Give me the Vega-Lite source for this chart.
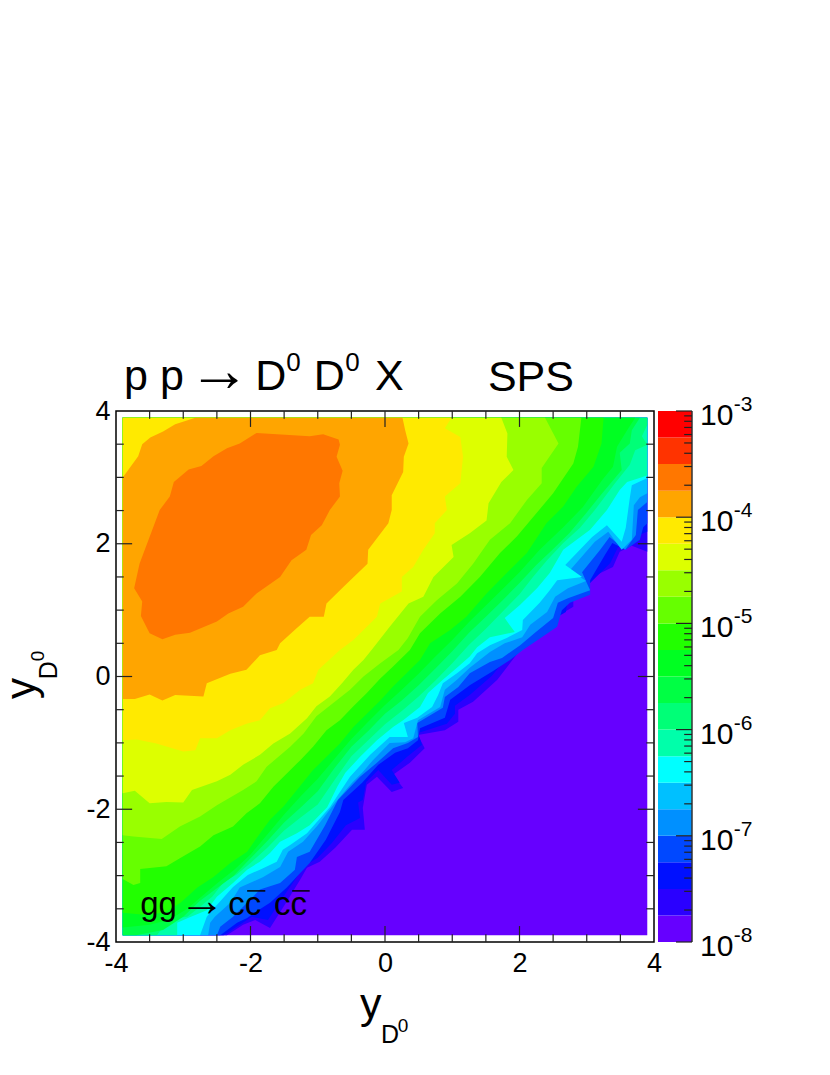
{"$schema":"https://vega.github.io/schema/vega-lite/v6.json","autosize":{"type":"none"},"padding":{"left":116,"top":411,"right":714,"bottom":664},"background":"white","spacing":4,"bounds":"flush","config":{"font":"Liberation Sans","text":{"font":"Liberation Sans","color":"#000","align":"left","baseline":"alphabetic"}},
"datasets":{
"contours":[
{"l":1,"x":-3.9,"y":-3.9},{"l":1,"x":3.9,"y":-3.9},{"l":1,"x":3.9,"y":3.9},{"l":1,"x":-3.9,"y":3.9},
{"l":2,"x":-2.35,"y":-3.9},{"l":2,"x":-2.11,"y":-3.74},{"l":2,"x":-1.93,"y":-3.67},{"l":2,"x":-1.71,"y":-3.79},{"l":2,"x":-1.49,"y":-3.44},{"l":2,"x":-1.26,"y":-3.06},{"l":2,"x":-1.16,"y":-2.88},{"l":2,"x":-0.97,"y":-2.79},{"l":2,"x":-0.74,"y":-2.58},{"l":2,"x":-0.49,"y":-2.31},{"l":2,"x":-0.3,"y":-2.31},{"l":2,"x":-0.33,"y":-1.98},{"l":2,"x":-0.27,"y":-1.63},{"l":2,"x":-0.12,"y":-1.51},{"l":2,"x":0.1,"y":-1.74},{"l":2,"x":0.27,"y":-1.68},{"l":2,"x":0.12,"y":-1.48},{"l":2,"x":0.37,"y":-1.3},{"l":2,"x":0.59,"y":-1.08},{"l":2,"x":0.49,"y":-0.88},{"l":2,"x":0.89,"y":-0.81},{"l":2,"x":1.09,"y":-0.68},{"l":2,"x":1.09,"y":-0.5},{"l":2,"x":1.31,"y":-0.38},{"l":2,"x":1.67,"y":-0.05},{"l":2,"x":2.01,"y":0.4},{"l":2,"x":2.3,"y":0.75},{"l":2,"x":2.8,"y":1.05},{"l":2,"x":2.8,"y":1.26},{"l":2,"x":3.08,"y":1.5},{"l":2,"x":3.39,"y":1.65},{"l":2,"x":3.49,"y":1.88},{"l":2,"x":3.67,"y":1.97},{"l":2,"x":3.9,"y":1.88},{"l":2,"x":3.9,"y":3.9},{"l":2,"x":-3.9,"y":3.9},{"l":2,"x":-3.9,"y":-3.9},
{"l":3,"x":-2.4,"y":-3.9},{"l":3,"x":-2.16,"y":-3.74},{"l":3,"x":-1.98,"y":-3.62},{"l":3,"x":-1.74,"y":-3.67},{"l":3,"x":-1.52,"y":-3.33},{"l":3,"x":-1.31,"y":-3.02},{"l":3,"x":-1.19,"y":-2.85},{"l":3,"x":-1.0,"y":-2.73},{"l":3,"x":-0.79,"y":-2.51},{"l":3,"x":-0.58,"y":-2.24},{"l":3,"x":-0.37,"y":-2.13},{"l":3,"x":-0.4,"y":-1.9},{"l":3,"x":-0.33,"y":-1.86},{"l":3,"x":-0.28,"y":-1.59},{"l":3,"x":-0.1,"y":-1.41},{"l":3,"x":0.1,"y":-1.63},{"l":3,"x":0.22,"y":-1.6},{"l":3,"x":0.1,"y":-1.41},{"l":3,"x":0.33,"y":-1.21},{"l":3,"x":0.55,"y":-1.03},{"l":3,"x":0.49,"y":-0.85},{"l":3,"x":0.92,"y":-0.71},{"l":3,"x":1.04,"y":-0.56},{"l":3,"x":1.04,"y":-0.44},{"l":3,"x":1.26,"y":-0.28},{"l":3,"x":1.59,"y":0.01},{"l":3,"x":1.93,"y":0.43},{"l":3,"x":2.23,"y":0.7},{"l":3,"x":2.69,"y":0.97},{"l":3,"x":2.72,"y":1.18},{"l":3,"x":3.05,"y":1.41},{"l":3,"x":3.35,"y":1.71},{"l":3,"x":3.46,"y":1.94},{"l":3,"x":3.67,"y":2.09},{"l":3,"x":3.9,"y":2.18},{"l":3,"x":3.9,"y":3.9},{"l":3,"x":-3.9,"y":3.9},{"l":3,"x":-3.9,"y":-3.9},
{"l":4,"x":-2.45,"y":-3.9},{"l":4,"x":-2.2,"y":-3.71},{"l":4,"x":-2.05,"y":-3.64},{"l":4,"x":-1.93,"y":-3.55},{"l":4,"x":-1.71,"y":-3.41},{"l":4,"x":-1.46,"y":-3.18},{"l":4,"x":-1.26,"y":-2.96},{"l":4,"x":-1.12,"y":-2.81},{"l":4,"x":-0.88,"y":-2.46},{"l":4,"x":-0.67,"y":-2.04},{"l":4,"x":-0.62,"y":-1.86},{"l":4,"x":-0.34,"y":-1.6},{"l":4,"x":-0.1,"y":-1.33},{"l":4,"x":0.15,"y":-1.15},{"l":4,"x":0.34,"y":-1.08},{"l":4,"x":0.49,"y":-0.96},{"l":4,"x":0.52,"y":-0.78},{"l":4,"x":0.89,"y":-0.62},{"l":4,"x":0.97,"y":-0.35},{"l":4,"x":1.26,"y":-0.13},{"l":4,"x":1.59,"y":0.07},{"l":4,"x":1.86,"y":0.25},{"l":4,"x":2.05,"y":0.4},{"l":4,"x":2.27,"y":0.55},{"l":4,"x":2.56,"y":0.75},{"l":4,"x":2.63,"y":1.0},{"l":4,"x":2.75,"y":1.11},{"l":4,"x":3.05,"y":1.23},{"l":4,"x":3.05,"y":1.45},{"l":4,"x":3.27,"y":1.83},{"l":4,"x":3.38,"y":2.01},{"l":4,"x":3.58,"y":1.91},{"l":4,"x":3.79,"y":2.06},{"l":4,"x":3.84,"y":2.25},{"l":4,"x":3.9,"y":2.31},{"l":4,"x":3.9,"y":3.9},{"l":4,"x":-3.9,"y":3.9},{"l":4,"x":-3.9,"y":-3.9},
{"l":5,"x":-2.5,"y":-3.9},{"l":5,"x":-2.45,"y":-3.77},{"l":5,"x":-2.26,"y":-3.62},{"l":5,"x":-2.05,"y":-3.41},{"l":5,"x":-1.86,"y":-3.21},{"l":5,"x":-1.56,"y":-3.11},{"l":5,"x":-1.34,"y":-2.91},{"l":5,"x":-1.31,"y":-2.72},{"l":5,"x":-1.12,"y":-2.64},{"l":5,"x":-0.89,"y":-2.24},{"l":5,"x":-0.7,"y":-1.86},{"l":5,"x":-0.37,"y":-1.51},{"l":5,"x":-0.12,"y":-1.3},{"l":5,"x":0.12,"y":-1.08},{"l":5,"x":0.34,"y":-1.0},{"l":5,"x":0.49,"y":-0.91},{"l":5,"x":0.48,"y":-0.7},{"l":5,"x":0.86,"y":-0.47},{"l":5,"x":0.89,"y":-0.31},{"l":5,"x":1.09,"y":-0.16},{"l":5,"x":1.26,"y":0.05},{"l":5,"x":1.56,"y":0.22},{"l":5,"x":1.74,"y":0.28},{"l":5,"x":2.01,"y":0.47},{"l":5,"x":2.23,"y":0.66},{"l":5,"x":2.5,"y":0.88},{"l":5,"x":2.57,"y":1.11},{"l":5,"x":2.72,"y":1.18},{"l":5,"x":3.05,"y":1.3},{"l":5,"x":2.93,"y":1.57},{"l":5,"x":3.2,"y":1.91},{"l":5,"x":3.34,"y":2.1},{"l":5,"x":3.57,"y":1.91},{"l":5,"x":3.73,"y":2.13},{"l":5,"x":3.76,"y":2.51},{"l":5,"x":3.9,"y":2.63},{"l":5,"x":3.9,"y":3.9},{"l":5,"x":-3.9,"y":3.9},{"l":5,"x":-3.9,"y":-3.9},
{"l":6,"x":-2.63,"y":-3.9},{"l":6,"x":-2.6,"y":-3.71},{"l":6,"x":-2.53,"y":-3.62},{"l":6,"x":-2.3,"y":-3.41},{"l":6,"x":-2.16,"y":-3.18},{"l":6,"x":-1.96,"y":-3.09},{"l":6,"x":-1.81,"y":-3.02},{"l":6,"x":-1.56,"y":-2.87},{"l":6,"x":-1.44,"y":-2.64},{"l":6,"x":-1.22,"y":-2.49},{"l":6,"x":-1.0,"y":-2.24},{"l":6,"x":-0.74,"y":-1.9},{"l":6,"x":-0.49,"y":-1.6},{"l":6,"x":-0.33,"y":-1.44},{"l":6,"x":-0.18,"y":-1.26},{"l":6,"x":0.07,"y":-1.0},{"l":6,"x":0.3,"y":-0.99},{"l":6,"x":0.42,"y":-0.93},{"l":6,"x":0.49,"y":-0.66},{"l":6,"x":0.82,"y":-0.46},{"l":6,"x":0.89,"y":-0.2},{"l":6,"x":1.07,"y":-0.05},{"l":6,"x":1.26,"y":0.13},{"l":6,"x":1.56,"y":0.37},{"l":6,"x":1.78,"y":0.5},{"l":6,"x":2.04,"y":0.59},{"l":6,"x":2.16,"y":0.78},{"l":6,"x":2.41,"y":0.97},{"l":6,"x":2.53,"y":1.2},{"l":6,"x":2.72,"y":1.33},{"l":6,"x":2.99,"y":1.44},{"l":6,"x":2.75,"y":1.6},{"l":6,"x":3.12,"y":2.03},{"l":6,"x":3.32,"y":2.18},{"l":6,"x":3.52,"y":1.91},{"l":6,"x":3.67,"y":2.06},{"l":6,"x":3.7,"y":2.58},{"l":6,"x":3.79,"y":2.7},{"l":6,"x":3.9,"y":2.76},{"l":6,"x":3.9,"y":3.9},{"l":6,"x":-3.9,"y":3.9},{"l":6,"x":-3.9,"y":-3.9},
{"l":7,"x":-2.75,"y":-3.9},{"l":7,"x":-2.65,"y":-3.62},{"l":7,"x":-2.57,"y":-3.52},{"l":7,"x":-2.26,"y":-3.17},{"l":7,"x":-2.04,"y":-2.99},{"l":7,"x":-1.86,"y":-2.91},{"l":7,"x":-1.61,"y":-2.79},{"l":7,"x":-1.52,"y":-2.61},{"l":7,"x":-1.41,"y":-2.54},{"l":7,"x":-1.16,"y":-2.36},{"l":7,"x":-0.82,"y":-1.97},{"l":7,"x":-0.52,"y":-1.51},{"l":7,"x":-0.22,"y":-1.18},{"l":7,"x":0.07,"y":-0.91},{"l":7,"x":0.34,"y":-0.91},{"l":7,"x":0.28,"y":-0.7},{"l":7,"x":0.48,"y":-0.62},{"l":7,"x":0.7,"y":-0.46},{"l":7,"x":0.79,"y":-0.28},{"l":7,"x":0.86,"y":-0.1},{"l":7,"x":1.07,"y":0.05},{"l":7,"x":1.26,"y":0.2},{"l":7,"x":1.37,"y":0.35},{"l":7,"x":1.56,"y":0.47},{"l":7,"x":1.81,"y":0.58},{"l":7,"x":2.04,"y":0.7},{"l":7,"x":2.05,"y":0.85},{"l":7,"x":2.3,"y":1.11},{"l":7,"x":2.45,"y":1.3},{"l":7,"x":2.56,"y":1.45},{"l":7,"x":2.93,"y":1.5},{"l":7,"x":2.68,"y":1.68},{"l":7,"x":3.08,"y":2.1},{"l":7,"x":3.3,"y":2.28},{"l":7,"x":3.52,"y":2.03},{"l":7,"x":3.58,"y":2.24},{"l":7,"x":3.64,"y":2.69},{"l":7,"x":3.67,"y":2.88},{"l":7,"x":3.9,"y":2.99},{"l":7,"x":3.9,"y":3.9},{"l":7,"x":-3.9,"y":3.9},{"l":7,"x":-3.9,"y":-3.9},
{"l":8,"x":-3.09,"y":-3.9},{"l":8,"x":-3.09,"y":-3.71},{"l":8,"x":-2.93,"y":-3.64},{"l":8,"x":-2.65,"y":-3.52},{"l":8,"x":-2.5,"y":-3.32},{"l":8,"x":-2.26,"y":-3.11},{"l":8,"x":-2.05,"y":-2.91},{"l":8,"x":-1.86,"y":-2.79},{"l":8,"x":-1.71,"y":-2.66},{"l":8,"x":-1.56,"y":-2.49},{"l":8,"x":-1.31,"y":-2.36},{"l":8,"x":-1.12,"y":-2.24},{"l":8,"x":-0.86,"y":-1.97},{"l":8,"x":-0.71,"y":-1.66},{"l":8,"x":-0.59,"y":-1.45},{"l":8,"x":-0.37,"y":-1.21},{"l":8,"x":-0.12,"y":-0.96},{"l":8,"x":0.12,"y":-0.76},{"l":8,"x":0.27,"y":-0.66},{"l":8,"x":0.52,"y":-0.46},{"l":8,"x":0.64,"y":-0.25},{"l":8,"x":0.86,"y":-0.05},{"l":8,"x":1.07,"y":0.13},{"l":8,"x":1.26,"y":0.3},{"l":8,"x":1.37,"y":0.44},{"l":8,"x":1.56,"y":0.59},{"l":8,"x":1.93,"y":0.67},{"l":8,"x":1.78,"y":0.88},{"l":8,"x":2.01,"y":1.08},{"l":8,"x":2.26,"y":1.33},{"l":8,"x":2.45,"y":1.56},{"l":8,"x":2.65,"y":1.91},{"l":8,"x":3.05,"y":2.21},{"l":8,"x":3.3,"y":2.51},{"l":8,"x":3.49,"y":2.81},{"l":8,"x":3.6,"y":2.93},{"l":8,"x":3.9,"y":3.03},{"l":8,"x":3.9,"y":3.9},{"l":8,"x":-3.9,"y":3.9},{"l":8,"x":-3.9,"y":-3.9},
{"l":9,"x":-3.39,"y":-3.9},{"l":9,"x":-3.3,"y":-3.77},{"l":9,"x":-3.12,"y":-3.64},{"l":9,"x":-2.94,"y":-3.62},{"l":9,"x":-2.75,"y":-3.47},{"l":9,"x":-2.57,"y":-3.32},{"l":9,"x":-2.4,"y":-3.1},{"l":9,"x":-2.2,"y":-2.98},{"l":9,"x":-2.0,"y":-2.81},{"l":9,"x":-1.75,"y":-2.58},{"l":9,"x":-1.5,"y":-2.32},{"l":9,"x":-1.25,"y":-2.12},{"l":9,"x":-1.0,"y":-1.93},{"l":9,"x":-0.75,"y":-1.56},{"l":9,"x":-0.5,"y":-1.2},{"l":9,"x":-0.25,"y":-0.96},{"l":9,"x":0,"y":-0.72},{"l":9,"x":0.25,"y":-0.52},{"l":9,"x":0.5,"y":-0.3},{"l":9,"x":0.75,"y":-0.06},{"l":9,"x":1.0,"y":0.2},{"l":9,"x":1.25,"y":0.48},{"l":9,"x":1.5,"y":0.72},{"l":9,"x":1.75,"y":0.98},{"l":9,"x":2.0,"y":1.24},{"l":9,"x":2.2,"y":1.5},{"l":9,"x":2.41,"y":1.75},{"l":9,"x":2.65,"y":2.01},{"l":9,"x":2.9,"y":2.24},{"l":9,"x":3.12,"y":2.51},{"l":9,"x":3.42,"y":2.91},{"l":9,"x":3.64,"y":3.19},{"l":9,"x":3.72,"y":3.41},{"l":9,"x":3.9,"y":3.49},{"l":9,"x":3.82,"y":3.62},{"l":9,"x":3.9,"y":3.79},{"l":9,"x":3.9,"y":3.9},{"l":9,"x":-3.9,"y":3.9},{"l":9,"x":-3.9,"y":-3.9},
{"l":10,"x":-3.7,"y":-3.9},{"l":10,"x":-3.3,"y":-3.82},{"l":10,"x":-3.0,"y":-3.62},{"l":10,"x":-2.75,"y":-3.38},{"l":10,"x":-2.5,"y":-3.19},{"l":10,"x":-2.25,"y":-3.0},{"l":10,"x":-2.0,"y":-2.74},{"l":10,"x":-1.75,"y":-2.48},{"l":10,"x":-1.5,"y":-2.2},{"l":10,"x":-1.25,"y":-1.97},{"l":10,"x":-1.0,"y":-1.73},{"l":10,"x":-0.75,"y":-1.38},{"l":10,"x":-0.5,"y":-1.06},{"l":10,"x":-0.25,"y":-0.82},{"l":10,"x":0,"y":-0.56},{"l":10,"x":0.25,"y":-0.36},{"l":10,"x":0.5,"y":-0.13},{"l":10,"x":0.75,"y":0.12},{"l":10,"x":1.0,"y":0.38},{"l":10,"x":1.25,"y":0.66},{"l":10,"x":1.5,"y":0.9},{"l":10,"x":1.75,"y":1.15},{"l":10,"x":2.0,"y":1.41},{"l":10,"x":2.25,"y":1.68},{"l":10,"x":2.49,"y":1.91},{"l":10,"x":2.74,"y":2.16},{"l":10,"x":2.99,"y":2.46},{"l":10,"x":3.23,"y":2.76},{"l":10,"x":3.52,"y":3.11},{"l":10,"x":3.49,"y":3.37},{"l":10,"x":3.64,"y":3.51},{"l":10,"x":3.67,"y":3.71},{"l":10,"x":3.79,"y":3.9},{"l":10,"x":-3.9,"y":3.9},{"l":10,"x":-3.9,"y":-3.9},
{"l":11,"x":-3.9,"y":-3.78},{"l":11,"x":-3.5,"y":-3.74},{"l":11,"x":-3.2,"y":-3.66},{"l":11,"x":-2.94,"y":-3.5},{"l":11,"x":-2.71,"y":-3.3},{"l":11,"x":-2.5,"y":-3.12},{"l":11,"x":-2.25,"y":-2.92},{"l":11,"x":-2.0,"y":-2.68},{"l":11,"x":-1.75,"y":-2.38},{"l":11,"x":-1.5,"y":-2.08},{"l":11,"x":-1.25,"y":-1.8},{"l":11,"x":-1.0,"y":-1.54},{"l":11,"x":-0.75,"y":-1.24},{"l":11,"x":-0.5,"y":-0.94},{"l":11,"x":-0.25,"y":-0.68},{"l":11,"x":0,"y":-0.43},{"l":11,"x":0.25,"y":-0.2},{"l":11,"x":0.5,"y":0.04},{"l":11,"x":0.75,"y":0.3},{"l":11,"x":1.0,"y":0.55},{"l":11,"x":1.25,"y":0.82},{"l":11,"x":1.5,"y":1.07},{"l":11,"x":1.75,"y":1.32},{"l":11,"x":2.0,"y":1.57},{"l":11,"x":2.3,"y":1.91},{"l":11,"x":2.65,"y":2.25},{"l":11,"x":2.94,"y":2.55},{"l":11,"x":3.23,"y":2.96},{"l":11,"x":3.39,"y":3.16},{"l":11,"x":3.45,"y":3.46},{"l":11,"x":3.6,"y":3.71},{"l":11,"x":3.72,"y":3.9},{"l":11,"x":-3.9,"y":3.9},
{"l":12,"x":-3.9,"y":-3.56},{"l":12,"x":-3.58,"y":-3.59},{"l":12,"x":-3.28,"y":-3.56},{"l":12,"x":-3.04,"y":-3.41},{"l":12,"x":-2.79,"y":-3.18},{"l":12,"x":-2.55,"y":-3.02},{"l":12,"x":-2.3,"y":-2.81},{"l":12,"x":-2.05,"y":-2.64},{"l":12,"x":-1.9,"y":-2.42},{"l":12,"x":-1.71,"y":-2.16},{"l":12,"x":-1.51,"y":-1.96},{"l":12,"x":-1.31,"y":-1.71},{"l":12,"x":-1.07,"y":-1.41},{"l":12,"x":-0.87,"y":-1.21},{"l":12,"x":-0.67,"y":-1.01},{"l":12,"x":-0.47,"y":-0.76},{"l":12,"x":-0.27,"y":-0.56},{"l":12,"x":-0.07,"y":-0.36},{"l":12,"x":0.12,"y":-0.15},{"l":12,"x":0.32,"y":0.05},{"l":12,"x":0.52,"y":0.25},{"l":12,"x":0.67,"y":0.5},{"l":12,"x":0.97,"y":0.7},{"l":12,"x":1.21,"y":0.9},{"l":12,"x":1.51,"y":1.25},{"l":12,"x":1.81,"y":1.56},{"l":12,"x":2.11,"y":1.86},{"l":12,"x":2.4,"y":2.31},{"l":12,"x":2.65,"y":2.56},{"l":12,"x":2.85,"y":2.86},{"l":12,"x":3.1,"y":3.16},{"l":12,"x":3.22,"y":3.51},{"l":12,"x":3.25,"y":3.9},{"l":12,"x":-3.9,"y":3.9},
{"l":13,"x":-3.9,"y":-3.05},{"l":13,"x":-3.74,"y":-3.14},{"l":13,"x":-3.64,"y":-3.11},{"l":13,"x":-3.64,"y":-2.9},{"l":13,"x":-3.25,"y":-2.86},{"l":13,"x":-3.05,"y":-2.74},{"l":13,"x":-2.75,"y":-2.56},{"l":13,"x":-2.55,"y":-2.39},{"l":13,"x":-2.26,"y":-2.26},{"l":13,"x":-2.06,"y":-2.06},{"l":13,"x":-1.86,"y":-1.91},{"l":13,"x":-1.66,"y":-1.66},{"l":13,"x":-1.46,"y":-1.46},{"l":13,"x":-1.26,"y":-1.26},{"l":13,"x":-1.07,"y":-1.06},{"l":13,"x":-0.87,"y":-0.81},{"l":13,"x":-0.67,"y":-0.66},{"l":13,"x":-0.47,"y":-0.45},{"l":13,"x":-0.27,"y":-0.25},{"l":13,"x":-0.07,"y":-0.03},{"l":13,"x":0.12,"y":0.15},{"l":13,"x":0.37,"y":0.4},{"l":13,"x":0.52,"y":0.65},{"l":13,"x":0.82,"y":0.95},{"l":13,"x":1.12,"y":1.2},{"l":13,"x":1.41,"y":1.5},{"l":13,"x":1.71,"y":1.86},{"l":13,"x":1.96,"y":2.11},{"l":13,"x":2.21,"y":2.41},{"l":13,"x":2.5,"y":2.76},{"l":13,"x":2.8,"y":3.21},{"l":13,"x":2.87,"y":3.46},{"l":13,"x":2.92,"y":3.9},{"l":13,"x":-3.9,"y":3.9},
{"l":14,"x":-3.9,"y":-2.39},{"l":14,"x":-3.74,"y":-2.41},{"l":14,"x":-3.32,"y":-2.45},{"l":14,"x":-3.05,"y":-2.26},{"l":14,"x":-2.75,"y":-2.11},{"l":14,"x":-2.5,"y":-1.94},{"l":14,"x":-2.11,"y":-1.71},{"l":14,"x":-1.91,"y":-1.58},{"l":14,"x":-1.76,"y":-1.36},{"l":14,"x":-1.41,"y":-1.06},{"l":14,"x":-1.21,"y":-0.86},{"l":14,"x":-1.02,"y":-0.6},{"l":14,"x":-0.77,"y":-0.4},{"l":14,"x":-0.52,"y":-0.2},{"l":14,"x":-0.32,"y":0},{"l":14,"x":-0.07,"y":0.2},{"l":14,"x":0.2,"y":0.4},{"l":14,"x":0.34,"y":0.58},{"l":14,"x":0.52,"y":0.9},{"l":14,"x":0.77,"y":1.15},{"l":14,"x":1.07,"y":1.4},{"l":14,"x":1.31,"y":1.7},{"l":14,"x":1.56,"y":2.06},{"l":14,"x":1.86,"y":2.31},{"l":14,"x":2.11,"y":2.66},{"l":14,"x":2.33,"y":2.91},{"l":14,"x":2.33,"y":3.14},{"l":14,"x":2.58,"y":3.51},{"l":14,"x":2.38,"y":3.9},{"l":14,"x":-3.9,"y":3.9},
{"l":15,"x":-3.9,"y":-1.76},{"l":15,"x":-3.72,"y":-1.72},{"l":15,"x":-3.5,"y":-1.91},{"l":15,"x":-3.25,"y":-1.89},{"l":15,"x":-3.0,"y":-1.9},{"l":15,"x":-2.87,"y":-1.71},{"l":15,"x":-2.5,"y":-1.58},{"l":15,"x":-2.3,"y":-1.48},{"l":15,"x":-2.11,"y":-1.33},{"l":15,"x":-1.86,"y":-1.18},{"l":15,"x":-1.66,"y":-1.01},{"l":15,"x":-1.41,"y":-0.86},{"l":15,"x":-1.16,"y":-0.63},{"l":15,"x":-1.02,"y":-0.45},{"l":15,"x":-0.82,"y":-0.3},{"l":15,"x":-0.64,"y":-0.1},{"l":15,"x":-0.47,"y":0.1},{"l":15,"x":-0.32,"y":0.25},{"l":15,"x":-0.2,"y":0.4},{"l":15,"x":0.07,"y":0.75},{"l":15,"x":0.35,"y":1.1},{"l":15,"x":0.57,"y":1.2},{"l":15,"x":0.72,"y":1.5},{"l":15,"x":1.02,"y":1.8},{"l":15,"x":0.99,"y":1.98},{"l":15,"x":1.26,"y":2.16},{"l":15,"x":1.51,"y":2.35},{"l":15,"x":1.54,"y":2.61},{"l":15,"x":1.73,"y":2.93},{"l":15,"x":1.91,"y":3.11},{"l":15,"x":1.81,"y":3.31},{"l":15,"x":1.82,"y":3.66},{"l":15,"x":1.73,"y":3.9},{"l":15,"x":-3.9,"y":3.9},
{"l":16,"x":-3.9,"y":-0.96},{"l":16,"x":-3.69,"y":-0.95},{"l":16,"x":-3.4,"y":-1.01},{"l":16,"x":-3.0,"y":-1.13},{"l":16,"x":-2.82,"y":-1.11},{"l":16,"x":-2.75,"y":-0.93},{"l":16,"x":-2.5,"y":-0.93},{"l":16,"x":-2.3,"y":-0.81},{"l":16,"x":-2.06,"y":-0.71},{"l":16,"x":-1.86,"y":-0.66},{"l":16,"x":-1.71,"y":-0.48},{"l":16,"x":-1.51,"y":-0.4},{"l":16,"x":-1.26,"y":-0.2},{"l":16,"x":-1.07,"y":-0.1},{"l":16,"x":-0.99,"y":0.1},{"l":16,"x":-0.67,"y":0.4},{"l":16,"x":-0.47,"y":0.55},{"l":16,"x":-0.12,"y":0.9},{"l":16,"x":-0.07,"y":1.1},{"l":16,"x":0.25,"y":1.28},{"l":16,"x":0.25,"y":1.5},{"l":16,"x":0.42,"y":1.65},{"l":16,"x":0.57,"y":1.91},{"l":16,"x":0.74,"y":2.16},{"l":16,"x":0.74,"y":2.31},{"l":16,"x":0.92,"y":2.51},{"l":16,"x":0.89,"y":2.71},{"l":16,"x":1.12,"y":2.91},{"l":16,"x":1.16,"y":3.31},{"l":16,"x":1.12,"y":3.61},{"l":16,"x":0.89,"y":3.74},{"l":16,"x":0.99,"y":3.9},{"l":16,"x":-3.9,"y":3.9},
{"l":17,"x":-3.9,"y":3.0},{"l":17,"x":-3.67,"y":3.32},{"l":17,"x":-3.61,"y":3.5},{"l":17,"x":-3.49,"y":3.6},{"l":17,"x":-3.3,"y":3.69},{"l":17,"x":-3.12,"y":3.8},{"l":17,"x":-2.82,"y":3.9},{"l":17,"x":0.26,"y":3.9},{"l":17,"x":0.3,"y":3.71},{"l":17,"x":0.35,"y":3.51},{"l":17,"x":0.28,"y":3.31},{"l":17,"x":0.27,"y":3.08},{"l":17,"x":0.1,"y":2.73},{"l":17,"x":0.1,"y":2.51},{"l":17,"x":0.05,"y":2.31},{"l":17,"x":-0.25,"y":1.91},{"l":17,"x":-0.26,"y":1.7},{"l":17,"x":-0.62,"y":1.35},{"l":17,"x":-0.87,"y":1.1},{"l":17,"x":-0.91,"y":0.9},{"l":17,"x":-1.12,"y":0.9},{"l":17,"x":-1.31,"y":0.73},{"l":17,"x":-1.56,"y":0.5},{"l":17,"x":-1.61,"y":0.4},{"l":17,"x":-1.86,"y":0.32},{"l":17,"x":-2.06,"y":0.1},{"l":17,"x":-2.3,"y":0.04},{"l":17,"x":-2.65,"y":-0.1},{"l":17,"x":-2.7,"y":-0.3},{"l":17,"x":-3.12,"y":-0.28},{"l":17,"x":-3.31,"y":-0.36},{"l":17,"x":-3.5,"y":-0.27},{"l":17,"x":-3.72,"y":-0.34},{"l":17,"x":-3.9,"y":-0.34},
{"l":18,"x":-1.91,"y":3.67},{"l":18,"x":-1.12,"y":3.62},{"l":18,"x":-0.92,"y":3.65},{"l":18,"x":-0.69,"y":3.57},{"l":18,"x":-0.67,"y":3.49},{"l":18,"x":-0.72,"y":3.31},{"l":18,"x":-0.63,"y":3.1},{"l":18,"x":-0.68,"y":2.91},{"l":18,"x":-0.67,"y":2.71},{"l":18,"x":-0.82,"y":2.51},{"l":18,"x":-0.94,"y":2.28},{"l":18,"x":-1.1,"y":2.13},{"l":18,"x":-1.17,"y":1.91},{"l":18,"x":-1.39,"y":1.75},{"l":18,"x":-1.56,"y":1.5},{"l":18,"x":-1.91,"y":1.25},{"l":18,"x":-2.11,"y":1.05},{"l":18,"x":-2.33,"y":0.95},{"l":18,"x":-2.5,"y":0.83},{"l":18,"x":-2.9,"y":0.66},{"l":18,"x":-3.12,"y":0.63},{"l":18,"x":-3.31,"y":0.56},{"l":18,"x":-3.5,"y":0.65},{"l":18,"x":-3.63,"y":0.91},{"l":18,"x":-3.61,"y":1.13},{"l":18,"x":-3.73,"y":1.33},{"l":18,"x":-3.65,"y":1.7},{"l":18,"x":-3.35,"y":2.51},{"l":18,"x":-3.2,"y":2.71},{"l":18,"x":-3.14,"y":2.93},{"l":18,"x":-2.92,"y":3.12},{"l":18,"x":-2.73,"y":3.17},{"l":18,"x":-2.55,"y":3.32},{"l":18,"x":-2.35,"y":3.44},{"l":18,"x":-2.16,"y":3.51}
],
"bands":[
{"c":1,"a":0,"b":1,"lo":1e-8,"hi":1.778e-8},{"c":2,"a":0,"b":1,"lo":1.778e-8,"hi":3.162e-8},{"c":3,"a":0,"b":1,"lo":3.162e-8,"hi":5.623e-8},{"c":4,"a":0,"b":1,"lo":5.623e-8,"hi":1e-7},{"c":5,"a":0,"b":1,"lo":1e-7,"hi":1.778e-7},{"c":6,"a":0,"b":1,"lo":1.778e-7,"hi":3.162e-7},{"c":7,"a":0,"b":1,"lo":3.162e-7,"hi":5.623e-7},{"c":8,"a":0,"b":1,"lo":5.623e-7,"hi":1e-6},{"c":9,"a":0,"b":1,"lo":1e-6,"hi":1.778e-6},{"c":10,"a":0,"b":1,"lo":1.778e-6,"hi":3.162e-6},{"c":11,"a":0,"b":1,"lo":3.162e-6,"hi":5.623e-6},{"c":12,"a":0,"b":1,"lo":5.623e-6,"hi":1e-5},{"c":13,"a":0,"b":1,"lo":1e-5,"hi":1.778e-5},{"c":14,"a":0,"b":1,"lo":1.778e-5,"hi":3.162e-5},{"c":15,"a":0,"b":1,"lo":3.162e-5,"hi":5.623e-5},{"c":16,"a":0,"b":1,"lo":5.623e-5,"hi":1e-4},{"c":17,"a":0,"b":1,"lo":1e-4,"hi":1.778e-4},{"c":18,"a":0,"b":1,"lo":1.778e-4,"hi":3.162e-4},{"c":19,"a":0,"b":1,"lo":3.162e-4,"hi":5.623e-4},{"c":20,"a":0,"b":1,"lo":5.623e-4,"hi":1e-3}]
},
"hconcat":[
{"width":538,"height":531,"view":{"stroke":"#000","strokeWidth":1.5},
"encoding":{"x":{"field":"x","type":"quantitative","scale":{"domain":[-4,4],"nice":false,"zero":false},"axis":{"values":[-4,-2,0,2,4],"title":null,"grid":false,"ticks":false,"domain":false,"labelFontSize":27,"labelFont":"Liberation Sans","labelColor":"#000","labelPadding":8,"labelFlush":false,"labelOverlap":false,"labelExpr":"''+datum.value"}},"y":{"field":"y","type":"quantitative","scale":{"domain":[-4,4],"nice":false,"zero":false},"axis":{"values":[-4,-2,0,2,4],"title":null,"grid":false,"ticks":false,"domain":false,"labelFontSize":27,"labelFont":"Liberation Sans","labelColor":"#000","labelPadding":6,"labelFlush":false,"labelOverlap":false,"labelExpr":"''+datum.value"}}},
"layer":[
{"data":{"name":"contours"},"mark":{"type":"line","filled":true,"strokeWidth":0},"encoding":{"order":{"value":null},"color":{"field":"l","type":"ordinal","legend":null,"scale":{"domain":[1,2,3,4,5,6,7,8,9,10,11,12,13,14,15,16,17,18,19,20],"range":["#6600ff","#2a00ff","#0010ff","#0048ff","#0090ff","#00c0ff","#00ffff","#00ffaa","#00ff77","#00ff44","#00ff22","#22ff00","#66ff00","#99ff00","#ddff00","#ffea00","#ffa500","#ff7700","#ff3300","#ff0000"]}}}},
{"data":{"values":[{"x":-3.7},{"x":-3.5},{"x":-3.3},{"x":-3.1},{"x":-2.9},{"x":-2.7},{"x":-2.5},{"x":-2.3},{"x":-2.1},{"x":-1.9},{"x":-1.7},{"x":-1.5},{"x":-1.3},{"x":-1.1},{"x":-0.9},{"x":-0.7},{"x":-0.5},{"x":-0.3},{"x":-0.1},{"x":0.1},{"x":0.3},{"x":0.5},{"x":0.7},{"x":0.9},{"x":1.1},{"x":1.3},{"x":1.5},{"x":1.7},{"x":1.9},{"x":2.1},{"x":2.3},{"x":2.5},{"x":2.7},{"x":2.9},{"x":3.1},{"x":3.3},{"x":3.5},{"x":3.7}]},"mark":{"type":"rule","color":"#fff","strokeWidth":1,"opacity":0.1},"encoding":{"y":{"datum":-3.9},"y2":{"datum":3.9}}},
{"data":{"values":[{"y":-3.7},{"y":-3.5},{"y":-3.3},{"y":-3.1},{"y":-2.9},{"y":-2.7},{"y":-2.5},{"y":-2.3},{"y":-2.1},{"y":-1.9},{"y":-1.7},{"y":-1.5},{"y":-1.3},{"y":-1.1},{"y":-0.9},{"y":-0.7},{"y":-0.5},{"y":-0.3},{"y":-0.1},{"y":0.1},{"y":0.3},{"y":0.5},{"y":0.7},{"y":0.9},{"y":1.1},{"y":1.3},{"y":1.5},{"y":1.7},{"y":1.9},{"y":2.1},{"y":2.3},{"y":2.5},{"y":2.7},{"y":2.9},{"y":3.1},{"y":3.3},{"y":3.5},{"y":3.7}]},"mark":{"type":"rule","color":"#fff","strokeWidth":1,"opacity":0.1},"encoding":{"x":{"datum":-3.9},"x2":{"datum":3.9}}},
{"data":{"values":[{"x":-3.5,"y":-4,"y2":-3.885},{"x":-3,"y":-4,"y2":-3.885},{"x":-2.5,"y":-4,"y2":-3.885},{"x":-2,"y":-4,"y2":-3.76},{"x":-1.5,"y":-4,"y2":-3.885},{"x":-1,"y":-4,"y2":-3.885},{"x":-0.5,"y":-4,"y2":-3.885},{"x":0,"y":-4,"y2":-3.76},{"x":0.5,"y":-4,"y2":-3.885},{"x":1,"y":-4,"y2":-3.885},{"x":1.5,"y":-4,"y2":-3.885},{"x":2,"y":-4,"y2":-3.76},{"x":2.5,"y":-4,"y2":-3.885},{"x":3,"y":-4,"y2":-3.885},{"x":3.5,"y":-4,"y2":-3.885},{"x":-3.5,"y":4,"y2":3.885},{"x":-3,"y":4,"y2":3.885},{"x":-2.5,"y":4,"y2":3.885},{"x":-2,"y":4,"y2":3.76},{"x":-1.5,"y":4,"y2":3.885},{"x":-1,"y":4,"y2":3.885},{"x":-0.5,"y":4,"y2":3.885},{"x":0,"y":4,"y2":3.76},{"x":0.5,"y":4,"y2":3.885},{"x":1,"y":4,"y2":3.885},{"x":1.5,"y":4,"y2":3.885},{"x":2,"y":4,"y2":3.76},{"x":2.5,"y":4,"y2":3.885},{"x":3,"y":4,"y2":3.885},{"x":3.5,"y":4,"y2":3.885}]},"mark":{"type":"rule","color":"#222","strokeWidth":1.2},"encoding":{"y2":{"field":"y2"}}},
{"data":{"values":[{"y":-3.5,"x":-4,"x2":-3.885},{"y":-3,"x":-4,"x2":-3.885},{"y":-2.5,"x":-4,"x2":-3.885},{"y":-2,"x":-4,"x2":-3.76},{"y":-1.5,"x":-4,"x2":-3.885},{"y":-1,"x":-4,"x2":-3.885},{"y":-0.5,"x":-4,"x2":-3.885},{"y":0,"x":-4,"x2":-3.76},{"y":0.5,"x":-4,"x2":-3.885},{"y":1,"x":-4,"x2":-3.885},{"y":1.5,"x":-4,"x2":-3.885},{"y":2,"x":-4,"x2":-3.76},{"y":2.5,"x":-4,"x2":-3.885},{"y":3,"x":-4,"x2":-3.885},{"y":3.5,"x":-4,"x2":-3.885},{"y":-3.5,"x":4,"x2":3.885},{"y":-3,"x":4,"x2":3.885},{"y":-2.5,"x":4,"x2":3.885},{"y":-2,"x":4,"x2":3.76},{"y":-1.5,"x":4,"x2":3.885},{"y":-1,"x":4,"x2":3.885},{"y":-0.5,"x":4,"x2":3.885},{"y":0,"x":4,"x2":3.76},{"y":0.5,"x":4,"x2":3.885},{"y":1,"x":4,"x2":3.885},{"y":1.5,"x":4,"x2":3.885},{"y":2,"x":4,"x2":3.76},{"y":2.5,"x":4,"x2":3.885},{"y":3,"x":4,"x2":3.885},{"y":3.5,"x":4,"x2":3.885}]},"mark":{"type":"rule","color":"#222","strokeWidth":1.2},"encoding":{"x2":{"field":"x2"}}},
{"data":{"values":[{"x":-2.05,"x2":-1.78,"y":-3.23},{"x":-1.38,"x2":-1.12,"y":-3.23}]},"mark":{"type":"rule","color":"#000","strokeWidth":1.5},"encoding":{"x2":{"field":"x2"}}},
{"data":{"values":[{"x":-3.88,"y":4.31,"t":"p p"},{"x":-1.93,"y":4.31,"t":"D"},{"x":-1.06,"y":4.31,"t":"D"},{"x":-0.15,"y":4.31,"t":"X"},{"x":1.53,"y":4.3,"t":"SPS"},{"x":-0.37,"y":-5.14,"t":"y"}]},"mark":{"type":"text","fontSize":43},"encoding":{"text":{"field":"t"}}},
{"data":{"values":[{"x":-2.93,"y":4.3,"t":"→"}]},"mark":{"type":"text","fontSize":62},"encoding":{"text":{"field":"t"}}},
{"data":{"values":[{"x":-3.06,"y":-3.61,"t":"→"}]},"mark":{"type":"text","fontSize":46},"encoding":{"text":{"field":"t"}}},
{"data":{"values":[{"x":-1.47,"y":4.6,"t":"0"},{"x":-0.59,"y":4.6,"t":"0"}]},"mark":{"type":"text","fontSize":26},"encoding":{"text":{"field":"t"}}},
{"data":{"values":[{"x":-3.64,"y":-3.59,"t":"gg"},{"x":-2.33,"y":-3.59,"t":"cc"},{"x":-1.65,"y":-3.59,"t":"cc"}]},"mark":{"type":"text","fontSize":33},"encoding":{"text":{"field":"t"}}},
{"data":{"values":[{"x":-0.06,"y":-5.52,"t":"D"}]},"mark":{"type":"text","fontSize":25},"encoding":{"text":{"field":"t"}}},
{"data":{"values":[{"x":0.19,"y":-5.36,"t":"0"}]},"mark":{"type":"text","fontSize":19},"encoding":{"text":{"field":"t"}}},
{"data":{"values":[{"x":-5.21,"y":-0.34,"t":"y"}]},"mark":{"type":"text","fontSize":42,"angle":270},"encoding":{"text":{"field":"t"}}},
{"data":{"values":[{"x":-4.88,"y":-0.04,"t":"D"}]},"mark":{"type":"text","fontSize":25,"angle":270},"encoding":{"text":{"field":"t"}}},
{"data":{"values":[{"x":-5.07,"y":0.23,"t":"0"}]},"mark":{"type":"text","fontSize":19,"angle":270},"encoding":{"text":{"field":"t"}}}
]},
{"width":34,"height":531,"view":{"stroke":null},
"encoding":{"x":{"field":"x","type":"quantitative","scale":{"domain":[0,1],"nice":false,"zero":false},"axis":null},"y":{"field":"v","type":"quantitative","scale":{"type":"log","domain":[1e-8,1e-3],"nice":false},"axis":null}},
"layer":[
{"data":{"name":"bands"},"mark":{"type":"rect"},"encoding":{"x":{"field":"a","type":"quantitative","axis":null},"x2":{"field":"b"},"y":{"field":"lo","type":"quantitative","axis":null},"y2":{"field":"hi"},"color":{"field":"c","type":"ordinal","legend":null,"scale":{"domain":[1,2,3,4,5,6,7,8,9,10,11,12,13,14,15,16,17,18,19,20],"range":["#6600ff","#2a00ff","#0010ff","#0048ff","#0090ff","#00c0ff","#00ffff","#00ffaa","#00ff77","#00ff44","#00ff22","#22ff00","#66ff00","#99ff00","#ddff00","#ffea00","#ffa500","#ff7700","#ff3300","#ff0000"]}}}},
{"data":{"values":[{"x":1,"v":1e-8,"v2":1e-3}]},"mark":{"type":"rule","color":"#333","strokeWidth":1.5},"encoding":{"y2":{"field":"v2"}}},
{"data":{"values":[{"x":0.53,"v":1e-8},{"x":0.53,"v":1e-7},{"x":0.53,"v":1e-6},{"x":0.53,"v":1e-5},{"x":0.53,"v":1e-4},{"x":0.53,"v":1e-3},
{"x":0.77,"v":2e-8},{"x":0.77,"v":3e-8},{"x":0.77,"v":4e-8},{"x":0.77,"v":5e-8},{"x":0.77,"v":6e-8},{"x":0.77,"v":7e-8},{"x":0.77,"v":8e-8},{"x":0.77,"v":9e-8},
{"x":0.77,"v":2e-7},{"x":0.77,"v":3e-7},{"x":0.77,"v":4e-7},{"x":0.77,"v":5e-7},{"x":0.77,"v":6e-7},{"x":0.77,"v":7e-7},{"x":0.77,"v":8e-7},{"x":0.77,"v":9e-7},
{"x":0.77,"v":2e-6},{"x":0.77,"v":3e-6},{"x":0.77,"v":4e-6},{"x":0.77,"v":5e-6},{"x":0.77,"v":6e-6},{"x":0.77,"v":7e-6},{"x":0.77,"v":8e-6},{"x":0.77,"v":9e-6},
{"x":0.77,"v":2e-5},{"x":0.77,"v":3e-5},{"x":0.77,"v":4e-5},{"x":0.77,"v":5e-5},{"x":0.77,"v":6e-5},{"x":0.77,"v":7e-5},{"x":0.77,"v":8e-5},{"x":0.77,"v":9e-5},
{"x":0.77,"v":2e-4},{"x":0.77,"v":3e-4},{"x":0.77,"v":4e-4},{"x":0.77,"v":5e-4},{"x":0.77,"v":6e-4},{"x":0.77,"v":7e-4},{"x":0.77,"v":8e-4},{"x":0.77,"v":9e-4}]},"mark":{"type":"rule","color":"#222","strokeWidth":1.2},"encoding":{"x2":{"datum":1}}},
{"data":{"values":[{"x":1.235,"v":1e-8,"t":"10"},{"x":1.235,"v":1e-7,"t":"10"},{"x":1.235,"v":1e-6,"t":"10"},{"x":1.235,"v":1e-5,"t":"10"},{"x":1.235,"v":1e-4,"t":"10"},{"x":1.235,"v":1e-3,"t":"10"}]},"mark":{"type":"text","fontSize":30,"dy":14},"encoding":{"text":{"field":"t"}}},
{"data":{"values":[{"x":2.23,"v":1e-8,"t":"-8"},{"x":2.23,"v":1e-7,"t":"-7"},{"x":2.23,"v":1e-6,"t":"-6"},{"x":2.23,"v":1e-5,"t":"-5"},{"x":2.23,"v":1e-4,"t":"-4"},{"x":2.23,"v":1e-3,"t":"-3"}]},"mark":{"type":"text","fontSize":21,"dy":0},"encoding":{"text":{"field":"t"}}}
]}
]}
